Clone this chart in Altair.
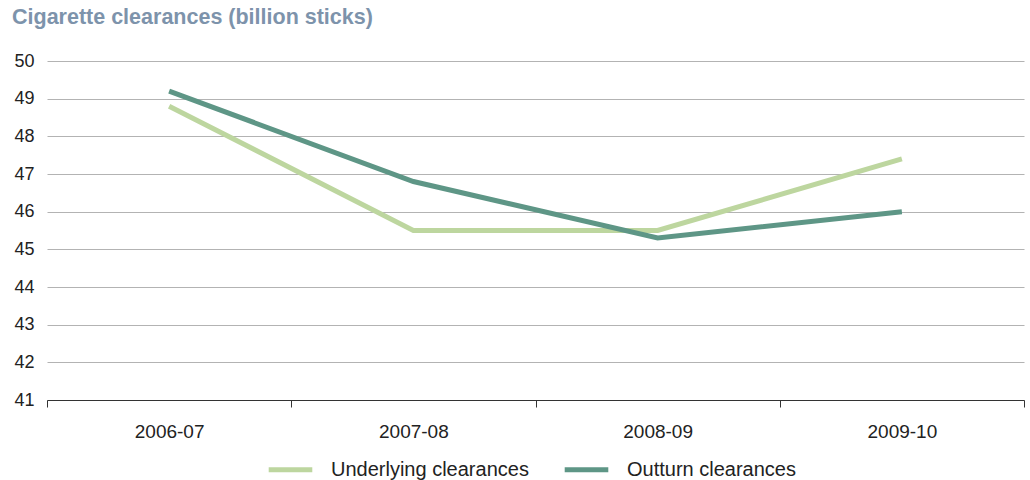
import altair as alt
import pandas as pd

# Financial years and clearances (billion sticks)
years = ["2006-07", "2007-08", "2008-09", "2009-10"]
underlying = [48.8, 45.5, 45.5, 47.4]
outturn = [49.2, 46.8, 45.3, 46.0]

series_names = ["Underlying clearances", "Outturn clearances"]
series_colors = ["#bdd69f", "#5e9686"]

rows = []
for name, values in zip(series_names, [underlying, outturn]):
    for yr, v in zip(years, values):
        rows.append({"year": yr, "value": v, "series": name})
df = pd.DataFrame(rows)

FONT = "Liberation Sans"

chart = (
    alt.Chart(df)
    .mark_line(strokeWidth=5, strokeJoin="miter", strokeCap="butt")
    .encode(
        x=alt.X(
            "year:N",
            bandPosition=0.5,
            sort=years,
            scale=alt.Scale(type="band", paddingInner=0, paddingOuter=0),
            axis=alt.Axis(
                title=None,
                labelAngle=0,
                tickBand="extent",
                tickSize=7,
                tickColor="#333333",
                domainColor="#333333",
                labelPadding=15,
                labelFontSize=19,
                labelColor="#222222",
                labelFont=FONT,
                grid=False,
            ),
        ),
        y=alt.Y(
            "value:Q",
            scale=alt.Scale(domain=[41, 50], nice=False, zero=False),
            axis=alt.Axis(
                title=None,
                values=list(range(41, 51)),
                domain=False,
                ticks=False,
                labelPadding=13,
                labelFontSize=18,
                labelColor="#222222",
                labelFont=FONT,
                gridColor="#b3b3b3",
                gridWidth=1,
            ),
        ),
        color=alt.Color(
            "series:N",
            scale=alt.Scale(domain=series_names, range=series_colors),
            legend=alt.Legend(
                title=None,
                orient="none",
                direction="horizontal",
                legendX=219,
                legendY=384,
                padding=0,
                symbolType="stroke",
                symbolSize=1900,
                symbolStrokeWidth=5,
                labelFontSize=20,
                labelFont=FONT,
                labelColor="#222222",
                labelOffset=16,
                labelLimit=400,
                columnPadding=25,
            ),
        ),
    )
    .properties(
        width=977,
        height=339,
        padding={"left": 47, "top": 61, "right": 6, "bottom": 80},
        autosize=alt.AutoSizeParams(type="none"),
        title=alt.TitleParams(
            "Cigarette clearances (billion sticks)",
            anchor="start",
            frame="group",
            dx=-35,
            baseline="top",
            offset=24,
            fontSize=21.5,
            fontWeight="bold",
            font=FONT,
            color="#7d93ab",
        ),
    )
    .configure_view(stroke=None)
)

chart.save("out.html", embed_options={"renderer": "svg", "actions": False})
